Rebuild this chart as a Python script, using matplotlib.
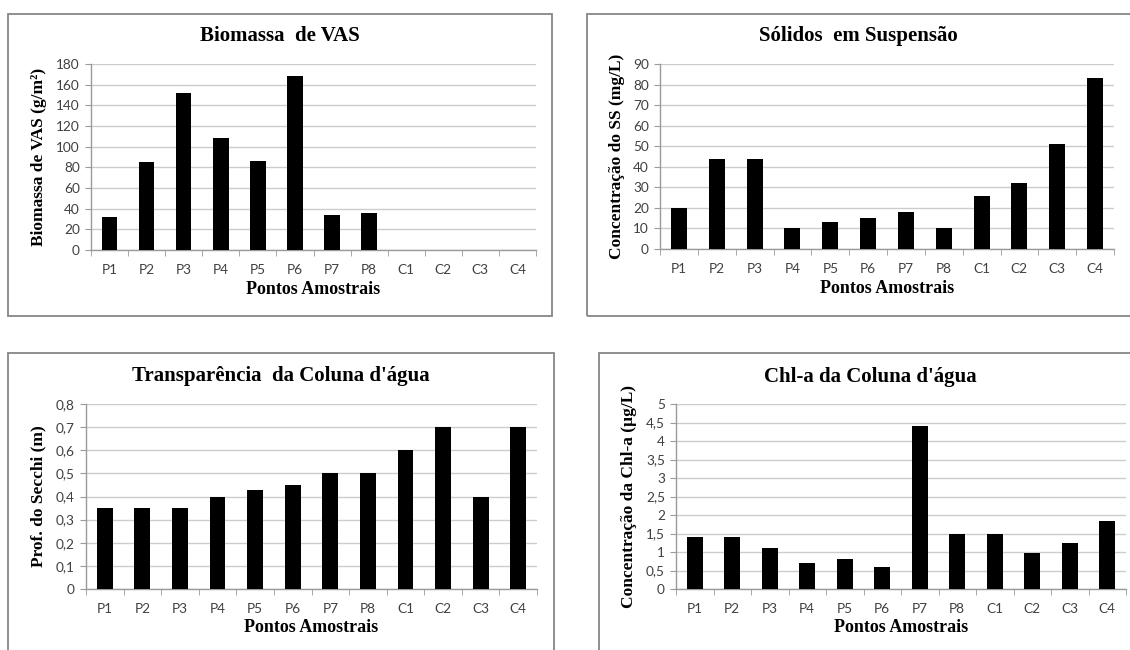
import matplotlib
matplotlib.use("Agg")
import matplotlib.pyplot as plt
from matplotlib.patches import Rectangle
from matplotlib.ticker import FuncFormatter

# sampling points shared by all four charts
pontos = ["P1", "P2", "P3", "P4", "P5", "P6", "P7", "P8", "C1", "C2", "C3", "C4"]

# values
biomassa_vas = [32, 85, 152, 108, 86, 168, 34, 36, 0, 0, 0, 0]
solidos_susp = [20, 44, 44, 10, 13, 15, 18, 10, 26, 32, 51, 83]
secchi = [0.35, 0.35, 0.35, 0.40, 0.43, 0.45, 0.50, 0.50, 0.60, 0.70, 0.40, 0.70]
chl_a = [1.4, 1.4, 1.1, 0.7, 0.8, 0.6, 4.4, 1.5, 1.48, 0.96, 1.23, 1.84]

W, H = 1130, 650
fig = plt.figure(figsize=(W / 100, H / 100), dpi=100)
fig.patch.set_facecolor("white")

serif = "Liberation Serif"
sans = "Lato"


def px_axes(l, t, r, b):
    return fig.add_axes([l / W, 1 - b / H, (r - l) / W, (b - t) / H])


def frame(l, t, r, b):
    fig.patches.append(Rectangle((l / W, 1 - b / H), (r - l) / W, (b - t) / H,
                                 transform=fig.transFigure, fill=False,
                                 edgecolor="#868686", linewidth=1.3, zorder=0))


def comma(v, pos):
    s = ("%.1f" % v).rstrip("0").rstrip(".")
    return s.replace(".", ",")


def bar_chart(box, frame_box, values, ymax, step, title, title_xy, ylabel, ylab_x):
    l, t, r, b = box
    frame(*frame_box)
    ax = px_axes(l, t, r, b)
    x = range(len(pontos))
    ax.bar(x, values, width=0.42, color="black", zorder=3)
    ax.set_xlim(-0.5, len(pontos) - 0.5)
    ax.set_ylim(0, ymax)
    n = int(round(ymax / step))
    ax.set_yticks([i * step for i in range(n + 1)])
    ax.yaxis.set_major_formatter(FuncFormatter(comma))
    ax.grid(axis="y", color="#cccccc", linewidth=1.0, zorder=0)
    ax.set_axisbelow(True)
    for s in ["top", "right"]:
        ax.spines[s].set_visible(False)
    for s in ["left", "bottom"]:
        ax.spines[s].set_color("#9a9a9a")
        ax.spines[s].set_linewidth(1.0)
    ax.set_xticks(list(x))
    ax.set_xticklabels(pontos)
    ax.set_xticks([i - 0.5 for i in range(len(pontos) + 1)], minor=True)
    ax.tick_params(axis="x", which="major", length=0, pad=10)
    ax.tick_params(axis="x", which="minor", length=4, color="#9a9a9a", direction="out")
    ax.tick_params(axis="y", length=4, color="#9a9a9a", pad=4)
    for lab in ax.get_xticklabels() + ax.get_yticklabels():
        lab.set_fontfamily(sans)
        lab.set_fontsize(9.8)
        lab.set_color("#404040")
    fig.text(title_xy[0] / W, 1 - title_xy[1] / H, title, ha="center", va="center",
             fontfamily=serif, fontweight="bold", fontsize=15)
    fig.text((l + r) / 2 / W, 1 - (b + 39) / H, "Pontos Amostrais", ha="center",
             va="center", fontfamily=serif, fontweight="bold", fontsize=13)
    fig.text(ylab_x / W, 1 - (t + b) / 2 / H, ylabel, ha="center", va="center",
             rotation=90, fontfamily=serif, fontweight="bold", fontsize=12.5)
    return ax


bar_chart((91, 64, 536, 250), (8, 14, 552, 316), biomassa_vas, 180, 20,
          "Biomassa  de VAS", (280, 36), "Biomassa de VAS (g/m²)", 39)
bar_chart((660, 64, 1114, 249), (587, 14, 1140, 316), solidos_susp, 90, 10,
          "Sólidos  em Suspensão", (858, 36), "Concentração do SS (mg/L)", 617)
bar_chart((86, 404, 537, 589), (8, 353, 554, 670), secchi, 0.8, 0.1,
          "Transparência  da Coluna d'água", (281, 376), "Prof. do Secchi (m)", 38)
bar_chart((676, 404, 1126, 589), (599, 353, 1140, 670), chl_a, 5, 0.5,
          "Chl-a da Coluna d'água", (870, 377), "Concentração da Chl-a (µg/L)", 629)

fig.savefig("out.png", dpi=100, facecolor="white")
